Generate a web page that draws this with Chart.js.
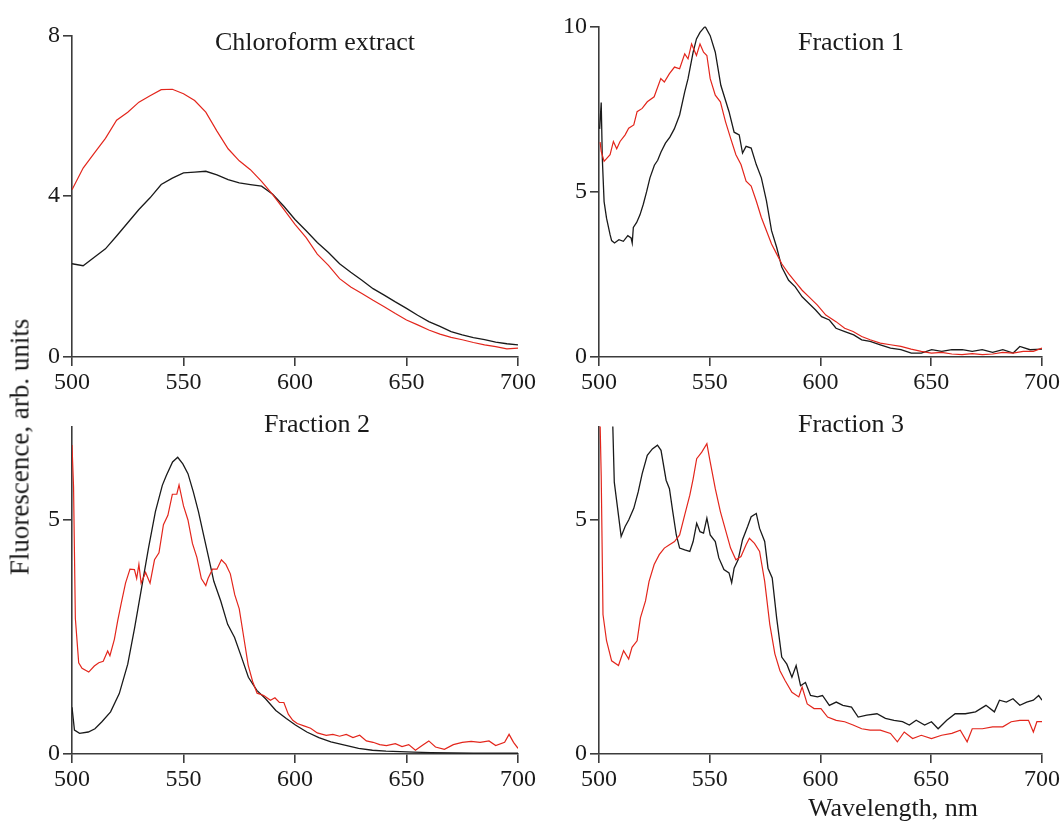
<!DOCTYPE html>
<html>
<head>
<meta charset="utf-8">
<script src="https://cdn.jsdelivr.net/npm/chart.js@4.4.1/dist/chart.umd.min.js"></script>
<style>
  html, body { margin: 0; padding: 0; background: #fff; overflow: hidden; }
  body { width: 1063px; height: 821px; position: relative; font-family: 'Liberation Serif', serif; color: #1a1a1a; }
  canvas { position: absolute; }
  .lbl { position: absolute; font-size: 26px; line-height: 1; white-space: nowrap; transform: translate(-50%, -50%); }
</style>
</head>
<body>
<canvas id="chl" style="left:22px;top:18px;width:516px;height:384px"></canvas>
<canvas id="fr1" style="left:549px;top:9px;width:513px;height:393px"></canvas>
<canvas id="fr2" style="left:22px;top:409px;width:516px;height:390px"></canvas>
<canvas id="fr3" style="left:549px;top:409px;width:513px;height:390px"></canvas>

<div class="lbl" style="left:315px;top:42px">Chloroform extract</div>
<div class="lbl" style="left:851px;top:42px">Fraction 1</div>
<div class="lbl" style="left:317px;top:424px">Fraction 2</div>
<div class="lbl" style="left:851px;top:424px">Fraction 3</div>
<div class="lbl" style="left:20px;top:447px;font-size:27px;transform:translate(-50%,-50%) rotate(-90deg)">Fluorescence, arb. units</div>
<div class="lbl" style="left:893px;top:808px">Wavelength, nm</div>

<script>
    // colours
    const blackLine = '#1a1a1a';
    const redLine = '#e3261c';
    const axisColor = '#3c3c3c';

    // x ticks (nm), shared by all four panels
    const xTicks = [500, 550, 600, 650, 700];

    // Chloroform extract
    const chlWl = [500, 505, 510, 515, 520, 525, 530, 535, 540, 545, 550, 555, 560, 565, 570, 575, 580, 585, 590, 595,
                   600, 605, 610, 615, 620, 625, 630, 635, 640, 645, 650, 655, 660, 665, 670, 675, 680, 685, 690, 695, 700];
    const chlBlack = [2.32, 2.27, 2.48, 2.69, 3.01, 3.34, 3.67, 3.96, 4.29, 4.45, 4.58, 4.60, 4.62, 4.53, 4.41, 4.33, 4.29, 4.25, 4.05, 3.75,
                      3.42, 3.14, 2.85, 2.60, 2.32, 2.11, 1.91, 1.70, 1.54, 1.37, 1.21, 1.04, 0.88, 0.76, 0.63, 0.55, 0.48, 0.43, 0.37, 0.33, 0.30];
    const chlRed = [4.16, 4.70, 5.07, 5.44, 5.89, 6.09, 6.34, 6.50, 6.65, 6.66, 6.55, 6.38, 6.09, 5.62, 5.18, 4.88, 4.66, 4.37, 4.04, 3.67,
                    3.30, 2.97, 2.56, 2.28, 1.95, 1.74, 1.58, 1.41, 1.25, 1.08, 0.92, 0.80, 0.67, 0.57, 0.49, 0.43, 0.36, 0.30, 0.26, 0.20, 0.22];
    const chlYTicks = [0, 4, 8];

    // Fraction 1
    const fr1BlackWl = [500.3, 501, 501.5, 502.3, 503.4, 505, 505.7, 507, 509, 511, 513, 514.5, 515, 515.5, 517, 518.5, 520, 521.5, 523, 525,
                        526.5, 528, 530, 532, 534, 536.4, 538.7, 540.2, 542.5, 544, 545.6, 547.9, 550.2, 552.5, 555, 558.7, 561, 563.3, 564.8, 566.4,
                        568.7, 571, 573.3, 575.6, 577.9, 580.2, 582.5, 585.6, 588.6, 591.7, 594.8, 597.8, 600.5, 604, 607, 611, 615, 618.6, 622.4, 627,
                        631.6, 636.3, 641, 645.5, 650.2, 654.7, 659.3, 664, 668.5, 673, 677.7, 682.3, 687, 690, 694.6, 700];
    const fr1Black = [6.9, 7.7, 6.0, 4.7, 4.2, 3.7, 3.52, 3.45, 3.55, 3.5, 3.67, 3.6, 3.45, 3.92, 4.07, 4.3, 4.62, 5.0, 5.42, 5.8,
                      5.95, 6.2, 6.47, 6.65, 6.9, 7.32, 8.02, 8.42, 9.22, 9.62, 9.82, 10.0, 9.72, 9.22, 8.22, 7.42, 6.8, 6.72, 6.17, 6.37,
                      6.32, 5.82, 5.42, 4.72, 3.82, 3.32, 2.72, 2.32, 2.12, 1.82, 1.62, 1.42, 1.22, 1.12, 0.87, 0.77, 0.67, 0.52, 0.47, 0.37,
                      0.27, 0.22, 0.12, 0.12, 0.22, 0.17, 0.22, 0.22, 0.17, 0.22, 0.14, 0.22, 0.12, 0.32, 0.22, 0.24];
    const fr1RedWl = [500.5, 501, 502.3, 505, 506.5, 508, 509.5, 511.8, 513.4, 515.7, 517.2, 519.5, 521.8, 524.9, 527.9, 529.5, 531.8, 534.1, 536.4, 538.7,
                      540.2, 541.8, 544, 545.6, 547.2, 548.7, 550.2, 552.5, 554.8, 557.1, 559.4, 561.8, 564.1, 566.4, 568.7, 571, 573.3, 575.6, 577.9, 580.2,
                      582.5, 585.6, 588.6, 591.7, 594.8, 598.6, 602.4, 607, 610.9, 614.7, 618.6, 622.4, 627, 631.6, 636.3, 640.9, 645.5, 650.1, 654.7, 659.3,
                      663.9, 668.5, 673.1, 677.7, 682.3, 686.9, 691.5, 696.1, 700];
    const fr1Red = [6.5, 6.22, 5.92, 6.12, 6.52, 6.3, 6.52, 6.72, 6.92, 7.02, 7.42, 7.52, 7.72, 7.87, 8.42, 8.32, 8.57, 8.77, 8.72, 9.17,
                    9.02, 9.47, 9.12, 9.47, 9.22, 9.12, 8.42, 7.92, 7.72, 7.12, 6.62, 6.12, 5.82, 5.32, 5.17, 4.72, 4.22, 3.82, 3.42, 3.12,
                    2.82, 2.52, 2.27, 2.02, 1.82, 1.57, 1.27, 1.07, 0.87, 0.77, 0.62, 0.52, 0.42, 0.37, 0.32, 0.24, 0.17, 0.12, 0.14, 0.09,
                    0.07, 0.1, 0.07, 0.09, 0.14, 0.12, 0.17, 0.17, 0.27];
    const fr1YTicks = [0, 5, 10];

    // Fraction 2
    const fr2BlackWl = [500, 501.1, 503.4, 507.3, 510.3, 513.4, 517.3, 521.2, 525, 528.1, 531.2, 534.3, 537.4, 540.5, 542.3, 545.1, 547.4, 549.7, 552, 554.4,
                        556.7, 559, 561.3, 563.6, 566.7, 569.8, 572.9, 576, 579.1, 582.9, 586.8, 591.4, 596.1, 600.2, 605.3, 610.7, 616.1, 622.3, 628.5, 634.7,
                        640.8, 647, 653.2, 660.9, 680, 700];
    const fr2Black = [1.0, 0.51, 0.44, 0.47, 0.54, 0.69, 0.90, 1.29, 1.92, 2.70, 3.55, 4.40, 5.18, 5.74, 5.95, 6.24, 6.34, 6.20, 5.99, 5.60,
                      5.18, 4.68, 4.19, 3.69, 3.27, 2.77, 2.49, 2.07, 1.64, 1.36, 1.18, 0.93, 0.76, 0.62, 0.47, 0.35, 0.26, 0.19, 0.12, 0.08,
                      0.06, 0.05, 0.04, 0.03, 0.02, 0.02];
    const fr2RedWl = [500, 500.7, 501.5, 503, 504.5, 507.5, 510, 512, 514, 516, 517, 519, 520.5, 522, 524, 526, 528, 529, 530, 531,
                      533, 535, 537, 539, 541, 543, 545, 547, 548, 550, 552, 554, 556, 558, 560, 561, 563, 565, 567, 569,
                      571, 573, 575, 577, 579, 581, 583, 586, 589, 591, 593, 595, 597, 599, 601, 604, 607, 610, 614, 617,
                      620, 623, 626, 629, 632, 635, 638, 641, 645, 648, 651, 654, 657, 660, 663, 667, 671, 675, 679, 683,
                      687, 690, 694, 696, 698, 700];
    const fr2Red = [6.6, 5.7, 2.9, 1.95, 1.83, 1.75, 1.88, 1.95, 1.98, 2.2, 2.1, 2.45, 2.85, 3.2, 3.65, 3.95, 3.94, 3.75, 4.05, 3.65,
                    3.88, 3.65, 4.15, 4.3, 4.9, 5.1, 5.55, 5.55, 5.75, 5.3, 5.0, 4.5, 4.2, 3.75, 3.6, 3.75, 3.95, 3.95, 4.15, 4.05,
                    3.85, 3.4, 3.1, 2.5, 1.9, 1.55, 1.3, 1.25, 1.15, 1.2, 1.1, 1.1, 0.85, 0.72, 0.65, 0.6, 0.55, 0.45, 0.4, 0.42,
                    0.38, 0.42, 0.35, 0.4, 0.28, 0.25, 0.2, 0.18, 0.22, 0.16, 0.2, 0.08, 0.18, 0.28, 0.15, 0.1, 0.2, 0.25, 0.27, 0.25,
                    0.28, 0.18, 0.25, 0.42, 0.25, 0.12];
    const fr2YTicks = [0, 5];

    // Fraction 3
    const fr3BlackWl = [505.9, 506.9, 508.4, 510, 511.8, 513.4, 515.7, 517.7, 519.5, 521.8, 524.1, 526.4, 528, 530.3, 531.8, 533.3, 534.9, 536.4, 538.7, 541,
                        542.5, 544.1, 545.6, 547.2, 548.7, 550.2, 552.5, 554.1, 556.4, 558.7, 559.9, 561, 562.8, 564.8, 567.1, 568.7, 571, 572.5, 574.8, 576.3,
                        578.2, 580.2, 582.5, 584.8, 587.1, 589, 591, 593.2, 595.5, 598.6, 600.9, 604, 607.1, 610.1, 614, 617, 620.9, 625.5, 629.3, 633.2,
                        637, 640.1, 643.2, 647, 650.1, 653.1, 657, 660.8, 665.4, 670, 674.7, 678.5, 680.8, 683.9, 686.9, 690, 693.1, 696.1, 698.5, 700];
    const fr3Black = [7.6, 5.81, 5.25, 4.65, 4.86, 5.0, 5.25, 5.6, 5.99, 6.38, 6.52, 6.6, 6.49, 5.85, 5.67, 5.18, 4.68, 4.4, 4.36, 4.33,
                      4.54, 4.93, 4.75, 4.72, 5.04, 4.68, 4.54, 4.19, 3.94, 3.87, 3.66, 3.97, 4.15, 4.58, 4.86, 5.07, 5.14, 4.82, 4.54, 3.97,
                      3.76, 2.91, 2.07, 1.92, 1.64, 1.89, 1.46, 1.53, 1.25, 1.22, 1.25, 1.04, 1.11, 1.04, 1.0, 0.79, 0.83, 0.86, 0.76, 0.72,
                      0.69, 0.62, 0.72, 0.62, 0.69, 0.54, 0.72, 0.86, 0.86, 0.9, 1.04, 0.9, 1.15, 1.11, 1.18, 1.04, 1.11, 1.15, 1.25, 1.15];
    const fr3RedWl = [500.3, 501, 501.8, 503.4, 505.7, 508.8, 511.1, 513.4, 514.9, 517.2, 518.7, 521, 522.6, 524.9, 527.2, 529.5, 531.8, 534.1, 536.4, 538.7,
                      541, 542.5, 544.1, 546.4, 548.7, 550.2, 552.5, 554.8, 557.1, 559.4, 561.8, 564.1, 566.4, 567.9, 570.2, 572.5, 574.8, 577.1, 579.4, 581.7,
                      584, 587.1, 590.2, 591.7, 594, 597.1, 600.2, 603.2, 607.1, 610.9, 614.7, 618.6, 622.4, 627, 631.6, 634.7, 637.8, 641.6, 645.5, 650.1,
                      654.7, 659.3, 663.1, 666.2, 668.5, 673.1, 677.7, 682.3, 686.1, 690, 693.9, 696.1, 697.7, 700];
    const fr3Red = [7.5, 5.95, 2.98, 2.42, 1.99, 1.89, 2.21, 2.03, 2.28, 2.42, 2.91, 3.27, 3.69, 4.05, 4.26, 4.4, 4.47, 4.54, 4.68, 5.11,
                    5.53, 5.88, 6.31, 6.45, 6.63, 6.24, 5.67, 5.18, 4.79, 4.4, 4.15, 4.22, 4.47, 4.61, 4.5, 4.33, 3.69, 2.77, 2.14, 1.78,
                    1.57, 1.32, 1.22, 1.43, 1.07, 0.97, 0.97, 0.79, 0.72, 0.69, 0.62, 0.54, 0.51, 0.51, 0.44, 0.26, 0.47, 0.33, 0.4, 0.33,
                    0.4, 0.44, 0.51, 0.26, 0.54, 0.54, 0.58, 0.58, 0.69, 0.72, 0.72, 0.47, 0.69, 0.69];
    const fr3YTicks = [0, 5];

    const pts = (wl, vals) => wl.map((w, i) => ({ x: w, y: vals[i] }));

    function spectrum(id, black, red, yMax, yTicks) {
        new Chart(document.getElementById(id), {
            type: 'line',
            data: {
                datasets: [
                    { data: red, borderColor: redLine, borderWidth: 1.2, pointRadius: 0, tension: 0 },
                    { data: black, borderColor: blackLine, borderWidth: 1.3, pointRadius: 0, tension: 0 }
                ]
            },
            options: {
                responsive: false,
                animation: false,
                layout: { padding: { top: 15, right: 20, left: 0, bottom: 0 } },
                plugins: { legend: { display: false }, tooltip: { enabled: false } },
                scales: {
                    x: {
                        type: 'linear', min: 500, max: 700,
                        afterBuildTicks: s => { s.ticks = xTicks.map(v => ({ value: v })); },
                        afterFit: s => { s.height = 45; },
                        border: { display: true, color: axisColor, width: 1.6 },
                        grid: { drawOnChartArea: false, drawTicks: true, tickLength: 9, color: axisColor, lineWidth: 1.6 },
                        ticks: { color: '#1a1a1a', padding: 2, maxRotation: 0, font: { family: 'Liberation Serif', size: 24 } }
                    },
                    y: {
                        min: 0, max: yMax,
                        afterBuildTicks: s => { s.ticks = yTicks.map(v => ({ value: v })); },
                        afterFit: s => { s.width = 50; },
                        border: { display: true, color: axisColor, width: 1.6 },
                        grid: { drawOnChartArea: false, drawTicks: true, tickLength: 9, color: axisColor, lineWidth: 1.6 },
                        ticks: { color: '#1a1a1a', padding: 3, font: { family: 'Liberation Serif', size: 24 } }
                    }
                }
            }
        });
    }

    // set canvas pixel sizes from their CSS sizes
    document.querySelectorAll('canvas').forEach(c => {
        c.width = parseInt(c.style.width);
        c.height = parseInt(c.style.height);
    });

    spectrum('chl', pts(chlWl, chlBlack), pts(chlWl, chlRed), 8, chlYTicks);
    spectrum('fr1', pts(fr1BlackWl, fr1Black), pts(fr1RedWl, fr1Red), 10, fr1YTicks);
    spectrum('fr2', pts(fr2BlackWl, fr2Black), pts(fr2RedWl, fr2Red), 7, fr2YTicks);
    spectrum('fr3', pts(fr3BlackWl, fr3Black), pts(fr3RedWl, fr3Red), 7, fr3YTicks);
</script>
</body>
</html>
